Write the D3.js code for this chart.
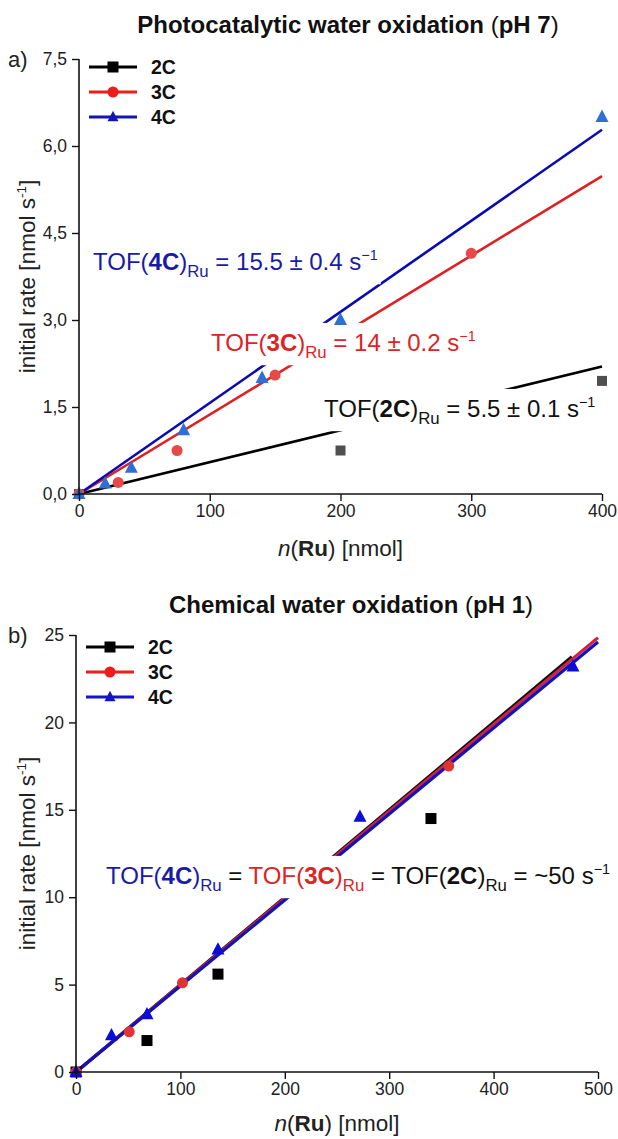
<!DOCTYPE html>
<html>
<head>
<meta charset="utf-8">
<script src="https://cdn.jsdelivr.net/npm/d3@7"></script>
<style>
  body { margin: 0; background: #fff; }
  svg { font-family: "Liberation Sans", Arial, sans-serif; }
</style>
</head>
<body>
<svg id="chart" width="618" height="1139"></svg>
<script>
// ---- data, panel a (pH 7, photocatalytic) ----
var seriesNames = ["2C", "3C", "4C"];
var nA_2C = [0, 200, 400];
var rateA_2C = [0, 0.75, 1.95];
var nA_3C = [0, 30, 75, 150, 300];
var rateA_3C = [0, 0.2, 0.75, 2.05, 4.15];
var nA_4C = [0, 20, 40, 80, 140, 200, 400];
var rateA_4C = [0, 0.18, 0.45, 1.1, 2.0, 3.0, 6.5];
var slopeA = [0.0055, 0.0137, 0.0157];   // linear fits through origin
var fitEndA = [400, 400, 400];
var yTicksA = [0, 1.5, 3, 4.5, 6, 7.5];
var xTicksA = [0, 100, 200, 300, 400];

// ---- data, panel b (pH 1, chemical) ----
var nB_2C = [0, 68, 136, 340];
var rateB_2C = [0, 1.8, 5.6, 14.5];
var nB_3C = [0, 51, 102, 357];
var rateB_3C = [0, 2.3, 5.1, 17.5];
var nB_4C = [0, 34, 68, 136, 272, 476];
var rateB_4C = [0, 2.1, 3.3, 7.0, 14.6, 23.2];
var slopeB = [0.0500, 0.0497, 0.0492];
var fitEndB = [475, 500, 500];
var yTicksB = [0, 5, 10, 15, 20, 25];
var xTicksB = [0, 100, 200, 300, 400, 500];

var svg = d3.select("#chart");

function seg(t, o) { return Object.assign({t: t}, o || {}); }

// mixed-style text: bold / italic / sub / sup pieces
function richText(g, x, y, parts, opt) {
    var size = opt.size;
    var t = g.append("text")
        .attr("x", x).attr("y", y)
        .attr("font-size", size)
        .attr("fill", opt.fill || "#000")
        .attr("text-anchor", opt.anchor || "start");
    var shift = 0;
    parts.forEach(function(p) {
        var dy = 0, fs = size;
        if (p.sub) { dy = size * 0.3; fs = size * 0.7; }
        if (p.sup) { dy = -size * 0.42; fs = size * 0.6; }
        var s = t.append("tspan")
            .attr("dy", dy - shift)
            .attr("font-size", fs)
            .attr("fill", p.fill || null)
            .text(p.t);
        if (p.b) s.attr("font-weight", "bold");
        if (p.i) s.attr("font-style", "italic");
        shift = dy;
    });
    return t;
}

// label with white box hiding the fit lines behind it
function boxedLabel(g, x, y, parts, fill) {
    var lg = g.append("g");
    var bg = lg.append("rect").attr("fill", "#fff");
    var t = richText(lg, x, y, parts, {size: 24, fill: fill});
    var bb = t.node().getBBox();
    bg.attr("x", bb.x - 2).attr("y", bb.y - 5)
      .attr("width", bb.width + 5).attr("height", bb.height + 8);
}

function marker(g, type, cx, cy, color, sz) {
    if (type === "square") {
        g.append("rect").attr("x", cx - sz / 2).attr("y", cy - sz / 2)
         .attr("width", sz).attr("height", sz).attr("fill", color);
    } else if (type === "circle") {
        g.append("circle").attr("cx", cx).attr("cy", cy).attr("r", sz / 2).attr("fill", color);
    } else {
        var h = sz * 0.95;
        g.append("path")
         .attr("d", "M" + cx + "," + (cy - h * 0.6) + "L" + (cx + sz / 2) + "," + (cy + h * 0.4) +
                "L" + (cx - sz / 2) + "," + (cy + h * 0.4) + "Z")
         .attr("fill", color);
    }
}

function drawPanel(cfg) {
    var g = svg.append("g");
    var x = d3.scaleLinear().domain(cfg.xDomain).range([cfg.left, cfg.right]);
    var y = d3.scaleLinear().domain(cfg.yDomain).range([cfg.bottom, cfg.top]);

    // fit lines
    var lineGen = d3.line().x(function(d) { return x(d[0]); }).y(function(d) { return y(d[1]); });
    cfg.order.forEach(function(k) {
        g.append("path")
         .datum([[0, 0], [cfg.fitEnd[k], cfg.slope[k] * cfg.fitEnd[k]]])
         .attr("d", lineGen)
         .attr("fill", "none")
         .attr("stroke", cfg.lineColors[k])
         .attr("stroke-width", cfg.lineWidth);
    });

    // labels over lines
    cfg.labels.forEach(function(L) {
        boxedLabel(g, L.x, L.y, L.parts, L.fill);
    });

    // markers
    cfg.order.forEach(function(k) {
        var xs = cfg.xs[k], ys = cfg.ys[k];
        xs.forEach(function(v, i) {
            marker(g, cfg.shapes[k], x(v), y(ys[i]), cfg.markColors[k], cfg.markSize[k]);
        });
    });

    // axes
    var xAxis = d3.axisBottom(x).tickValues(cfg.xTicks).tickSize(7).tickPadding(4)
        .tickFormat(function(d) { return d; });
    var yAxis = d3.axisLeft(y).tickValues(cfg.yTicks).tickSize(7).tickPadding(5)
        .tickFormat(cfg.fmt);
    var minorX = cfg.xTicks.slice(1).map(function(d, i) { return (d + cfg.xTicks[i]) / 2; });
    var minorY = cfg.yTicks.slice(1).map(function(d, i) { return (d + cfg.yTicks[i]) / 2; });

    var gx = g.append("g").attr("transform", "translate(0," + cfg.bottom + ")");
    gx.call(d3.axisBottom(x).tickValues(minorX).tickSize(4).tickFormat(""));
    gx.call(xAxis);
    var gy = g.append("g").attr("transform", "translate(" + cfg.left + ",0)");
    gy.call(d3.axisLeft(y).tickValues(minorY).tickSize(4).tickFormat(""));
    gy.call(yAxis);
    [gx, gy].forEach(function(a) {
        a.selectAll(".domain").attr("stroke", "#111").attr("stroke-width", 1.6);
        a.selectAll(".tick line").attr("stroke", "#111").attr("stroke-width", 1.4);
        a.selectAll("text").attr("font-size", 17.5).attr("fill", "#222")
         .attr("font-family", "'Liberation Sans', Arial, sans-serif");
    });
    gx.selectAll(".domain").attr("d", "M" + cfg.left + ",0H" + cfg.right);
    gy.selectAll(".domain").attr("d", "M0," + cfg.bottom + "V" + cfg.top);

    // axis titles
    richText(g, (cfg.left + cfg.right) / 2, cfg.bottom + cfg.xTitleOff,
        [seg("n", {i: true}), seg("("), seg("Ru", {b: true}), seg(") [nmol]")],
        {size: 22.5, anchor: "middle", fill: "#222"});
    var ty = g.append("g")
        .attr("transform", "translate(35," + (cfg.top + cfg.bottom) / 2 + ") rotate(-90)");
    richText(ty, 0, 0, [seg("initial rate [nmol s"), seg("-1", {sup: true}), seg("]")],
        {size: 22.5, anchor: "middle", fill: "#222"});

    // title + panel letter
    richText(g, cfg.titleX, cfg.titleY,
        [seg(cfg.title, {b: true}), seg(" ("), seg(cfg.titlePh, {b: true}), seg(")")],
        {size: 24, anchor: "middle", fill: "#111"});
    richText(g, 8, cfg.top + 8, [seg(cfg.letter)], {size: 22, fill: "#222"});

    // legend
    seriesNames.forEach(function(name, k) {
        var ly = cfg.legY + k * 25;
        g.append("line").attr("x1", cfg.legX).attr("x2", cfg.legX + 48)
         .attr("y1", ly).attr("y2", ly)
         .attr("stroke", cfg.legColors[k]).attr("stroke-width", 3);
        marker(g, cfg.shapes[k], cfg.legX + 24, ly, cfg.legColors[k], 11);
        richText(g, cfg.legX + 62, ly + 7, [seg(name, {b: true})], {size: 19.5, fill: "#111"});
    });
}

var BLUE = "#1a1aa8", RED = "#dc2424";

drawPanel({
    left: 79, right: 602, top: 59, bottom: 494, xTitleOff: 62,
    xDomain: [0, 400], yDomain: [0, 7.5],
    xTicks: xTicksA, yTicks: yTicksA,
    fmt: function(d) { return d3.format(".1f")(d).replace(".", ","); },
    xs: [nA_2C, nA_3C, nA_4C], ys: [rateA_2C, rateA_3C, rateA_4C],
    slope: slopeA, fitEnd: fitEndA, order: [0, 1, 2],
    lineColors: ["#000", "#e02020", "#0a0ab4"], lineWidth: 2.6,
    markColors: ["#4f4f4f", "#e84848", "#2e6fd6"], markSize: [10, 11, 13],
    shapes: ["square", "circle", "triangle"],
    legColors: ["#000", "#ee1c1c", "#1414b4"], legX: 89, legY: 67,
    title: "Photocatalytic water oxidation", titlePh: "pH 7", titleX: 348, titleY: 33, letter: "a)",
    labels: [
        {x: 93, y: 270, fill: BLUE, parts: [seg("TOF("), seg("4C", {b: true}), seg(")"),
            seg("Ru", {sub: true}), seg(" = 15.5 ± 0.4 s"), seg("−1", {sup: true})]},
        {x: 211, y: 351, fill: RED, parts: [seg("TOF("), seg("3C", {b: true}), seg(")"),
            seg("Ru", {sub: true}), seg(" = 14 ± 0.2 s"), seg("−1", {sup: true})]},
        {x: 324, y: 417, fill: "#111", parts: [seg("TOF("), seg("2C", {b: true}), seg(")"),
            seg("Ru", {sub: true}), seg(" = 5.5 ± 0.1 s"), seg("−1", {sup: true})]}
    ]
});

drawPanel({
    left: 76, right: 598, top: 635, bottom: 1072, xTitleOff: 59,
    xDomain: [0, 500], yDomain: [0, 25],
    xTicks: xTicksB, yTicks: yTicksB,
    fmt: function(d) { return d; },
    xs: [nB_2C, nB_3C, nB_4C], ys: [rateB_2C, rateB_3C, rateB_4C],
    slope: slopeB, fitEnd: fitEndB, order: [0, 1, 2],
    lineColors: ["#111", "#d42040", "#1212b8"], lineWidth: 3.2,
    markColors: ["#000", "#e03434", "#0c0cd8"], markSize: [11, 11, 13],
    shapes: ["square", "circle", "triangle"],
    legColors: ["#000", "#ee1c1c", "#1414c8"], legX: 86, legY: 647,
    title: "Chemical water oxidation", titlePh: "pH 1", titleX: 351, titleY: 613, letter: "b)",
    labels: [
        {x: 106, y: 884, fill: BLUE, parts: [seg("TOF("), seg("4C", {b: true}), seg(")"),
            seg("Ru", {sub: true}), seg(" = ", {fill: "#111"}),
            seg("TOF(", {fill: RED}), seg("3C", {b: true, fill: RED}), seg(")", {fill: RED}),
            seg("Ru", {sub: true, fill: RED}), seg(" = TOF(", {fill: "#111"}),
            seg("2C", {b: true, fill: "#111"}), seg(")", {fill: "#111"}),
            seg("Ru", {sub: true, fill: "#111"}), seg(" = ~50 s", {fill: "#111"}),
            seg("−1", {sup: true, fill: "#111"})]}
    ]
});
</script>
</body>
</html>
